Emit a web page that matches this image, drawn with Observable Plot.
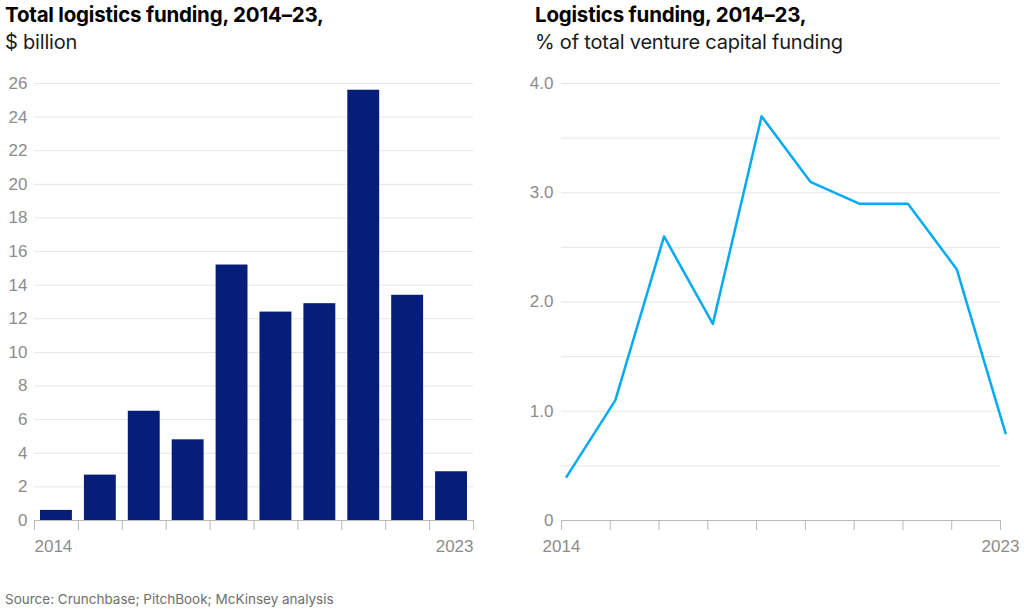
<!DOCTYPE html>
<html><head><meta charset="utf-8">
<script src="https://cdn.jsdelivr.net/npm/d3@7"></script>
<script src="https://cdn.jsdelivr.net/npm/@observablehq/plot@0.6"></script>
<style>
body{margin:0;background:#fff;font-family:Inter, "Liberation Sans", sans-serif;}
#wrap{position:relative;width:1024px;height:611px;overflow:hidden;background:#fff;}
.title{position:absolute;font-size:20px;line-height:27px;color:#1a1a1a;letter-spacing:-0.2px;}
.title b{font-weight:700;color:#000;font-size:20.5px;}
.chart{position:absolute;top:70px;}
.source{position:absolute;left:5px;top:591px;font-size:13.5px;color:#6e6e6e;}
</style></head>
<body><div id="wrap">
<div class="title" style="left:5px;top:1px"><b>Total logistics funding, 2014–23,</b><br>$ billion</div>
<div class="title" style="left:535px;top:1px"><b>Logistics funding, 2014–23,</b><br>% of total venture capital funding</div>
<div class="chart" id="left" style="left:0px"></div>
<div class="chart" id="right" style="left:512px"></div>
<div class="source">Source: Crunchbase; PitchBook; McKinsey analysis</div>
</div>
<script>
const years = [2014, 2015, 2016, 2017, 2018, 2019, 2020, 2021, 2022, 2023];
const fundingBillion = [0.6, 2.7, 6.5, 4.8, 15.2, 12.4, 12.9, 25.6, 13.4, 2.9];
const vcSharePct = [0.4, 1.1, 2.6, 1.8, 3.7, 3.1, 2.9, 2.9, 2.3, 0.8];
const leftYTicks = [0, 2, 4, 6, 8, 10, 12, 14, 16, 18, 20, 22, 24, 26];
const rightYTicks = [0, 0.5, 1, 1.5, 2, 2.5, 3, 3.5, 4];

const barData = years.map((year, i) => ({year, value: fundingBillion[i]}));
const lineData = years.map((year, i) => ({year, value: vcSharePct[i]}));

const gridColor = "#e6e6e6";
const axisColor = "#b8b8b8";
const labelColor = "#8c8c8c";
const baseStyle = {fontFamily: "'Liberation Sans', Arial, sans-serif", fontSize: "17px", color: labelColor, background: "transparent", overflow: "visible"};

const leftChart = Plot.plot({
  width: 490, height: 490,
  marginTop: 13, marginBottom: 40, marginLeft: 34, marginRight: 17,
  style: baseStyle,
  x: {domain: [2014, 2024], axis: null},
  y: {domain: [0, 26], axis: null},
  marks: [
    Plot.gridY(leftYTicks, {stroke: gridColor, strokeOpacity: 1}),
    Plot.axisY(leftYTicks, {tickSize: 0, tickPadding: 7, fill: labelColor, label: null, tickFormat: d => String(d)}),
    Plot.rectY(barData, {x: "year", interval: 1, y: "value", fill: "#061d79", insetLeft: 6, insetRight: 6}),
    Plot.ruleY([0], {stroke: axisColor, strokeWidth: 1}),
    Plot.axisX(d3.range(2014, 2025), {tickSize: 10, stroke: axisColor, label: null, tickFormat: () => ""}),
    Plot.axisX([2014], {tickSize: 0, tickPadding: 19, textAnchor: "start", fill: labelColor, label: null, tickFormat: d => String(d)}),
    Plot.axisX([2024], {tickSize: 0, tickPadding: 19, textAnchor: "end", fill: labelColor, label: null, tickFormat: () => String(years[years.length - 1])})
  ]
});
document.getElementById("left").appendChild(leftChart);

const rightChart = Plot.plot({
  width: 512, height: 490,
  marginTop: 13, marginBottom: 40, marginLeft: 49, marginRight: 24,
  style: baseStyle,
  x: {domain: [2014, 2023], axis: null},
  y: {domain: [0, 4], axis: null},
  marks: [
    Plot.gridY(rightYTicks, {stroke: gridColor, strokeOpacity: 1}),
    Plot.axisY(rightYTicks, {tickSize: 0, tickPadding: 8, fill: labelColor, label: null,
      tickFormat: d => d === 0 ? "0" : (d % 1 === 0 ? d.toFixed(1) : "")}),
    Plot.ruleY([0], {stroke: axisColor, strokeWidth: 1}),
    Plot.axisX(years, {tickSize: 10, stroke: axisColor, label: null, tickFormat: () => ""}),
    Plot.axisX([2014, 2023], {tickSize: 0, tickPadding: 19, fill: labelColor, label: null, tickFormat: d => String(d)}),
    Plot.lineY(lineData, {x: "year", y: "value", stroke: "#04aaf2", strokeWidth: 2.5, dx: 5})
  ]
});
document.getElementById("right").appendChild(rightChart);
</script>
</body></html>
